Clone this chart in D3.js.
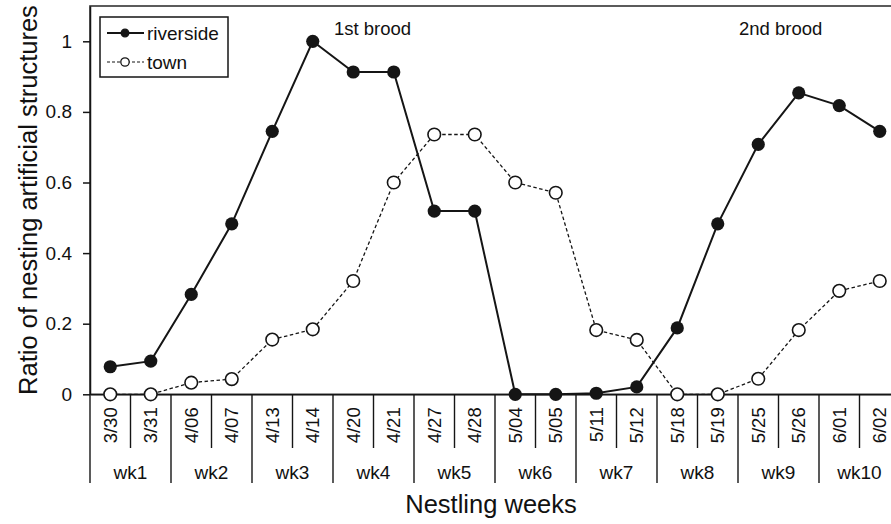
<!DOCTYPE html>
<html>
<head>
<meta charset="utf-8">
<script src="https://cdn.jsdelivr.net/npm/d3@7"></script>
<style>
  body { margin: 0; background: #fff; }
  svg { display: block; overflow: hidden; }
  text { font-family: "Liberation Sans", Arial, sans-serif; fill: #111; }
</style>
</head>
<body>
<div id="chart"></div>
<script>
// Sampling dates, nestling weeks and the two series
const dates = ["3/30", "3/31", "4/06", "4/07", "4/13", "4/14", "4/20", "4/21", "4/27", "4/28",
               "5/04", "5/05", "5/11", "5/12", "5/18", "5/19", "5/25", "5/26", "6/01", "6/02"];
const weeks = ["wk1", "wk2", "wk3", "wk4", "wk5", "wk6", "wk7", "wk8", "wk9", "wk10"];
const riverside = [0.078, 0.094, 0.283, 0.483, 0.745, 1.0, 0.913, 0.913, 0.519, 0.519,
                   0, 0, 0.003, 0.021, 0.188, 0.483, 0.708, 0.854, 0.818, 0.745];
const town = [0, 0, 0.033, 0.043, 0.155, 0.184, 0.321, 0.6, 0.736, 0.736,
              0.6, 0.571, 0.182, 0.154, 0, 0, 0.044, 0.182, 0.293, 0.321];
const yTicks = [0, 0.2, 0.4, 0.6, 0.8, 1];
const annotations = [{label: "1st brood", at: "4/20"}, {label: "2nd brood", at: "5/25"}];

const width = 891;
const height = 524;
const margin = ({top: 6, left: 90, bottom: 394.3, right: 900});
const ink = "#151515";

const x = d3.scaleBand().domain(dates).range([margin.left, margin.right]);
const xWeek = d3.scaleBand().domain(weeks).range([margin.left, margin.right]);
const y = d3.scaleLinear().domain([0, 1.1]).range([margin.bottom, margin.top]);

const svg = d3.select("#chart").append("svg")
  .attr("width", width)
  .attr("height", height);

// Plot frame (right edge falls outside the picture)
svg.append("rect")
  .attr("x", margin.left).attr("y", margin.top)
  .attr("width", margin.right - margin.left)
  .attr("height", margin.bottom - margin.top)
  .attr("fill", "none").attr("stroke", "#333").attr("stroke-width", 1.6);

/* y axis */
svg.append("g")
  .attr("transform", `translate(${margin.left},0)`)
  .call(d3.axisLeft(y)
    .tickValues(yTicks)
    .tickFormat(d3.format("~g"))
    .tickSize(7)
    .tickSizeOuter(0)
    .tickPadding(11))
  .call(g => g.selectAll("path, line").attr("stroke", ink).attr("stroke-width", 1.5))
  .call(g => g.selectAll("text").attr("font-size", 19).attr("fill", ink)
      .style("font-family", "Liberation Sans, Arial, sans-serif"));

/* x axis : dates */
svg.append("g")
  .attr("transform", `translate(0,${margin.bottom})`)
  .call(d3.axisBottom(x).tickSize(0).tickPadding(0))
  .call(g => g.select(".domain").attr("stroke", ink).attr("stroke-width", 1.5))
  .call(g => g.selectAll("text")
    .attr("font-size", 18.5)
    .attr("fill", ink)
    .style("font-family", "Liberation Sans, Arial, sans-serif")
    .attr("transform", "rotate(-90)")
    .attr("text-anchor", "end")
    .attr("x", -13).attr("y", 0).attr("dy", "0.35em"));

// separators between dates
svg.append("g")
  .selectAll("line")
  .data(dates.filter((d, i) => i % 2 === 1))
  .join("line")
    .attr("x1", d => x(d)).attr("x2", d => x(d))
    .attr("y1", margin.bottom).attr("y2", 448)
    .attr("stroke", ink).attr("stroke-width", 1.4);

// week separators and labels
svg.append("g")
  .selectAll("line")
  .data(weeks)
  .join("line")
    .attr("x1", d => xWeek(d)).attr("x2", d => xWeek(d))
    .attr("y1", margin.bottom).attr("y2", 483)
    .attr("stroke", ink).attr("stroke-width", 1.4);

svg.append("g")
  .selectAll("text")
  .data(weeks)
  .join("text")
    .attr("x", d => xWeek(d) + xWeek.bandwidth() / 2)
    .attr("y", 479)
    .attr("text-anchor", "middle")
    .attr("font-size", 19)
    .text(d => d);

/* axis titles */
svg.append("text")
  .attr("x", (margin.left + margin.right) / 2 - 4)
  .attr("y", 513)
  .attr("text-anchor", "middle")
  .attr("font-size", 25.5)
  .text("Nestling weeks");

svg.append("text")
  .attr("transform", "translate(37,200) rotate(-90)")
  .attr("text-anchor", "middle")
  .attr("font-size", 25.5)
  .text("Ratio of nesting artificial structures");

/* brood annotations */
svg.append("g")
  .selectAll("text")
  .data(annotations)
  .join("text")
    .attr("x", d => x(d.at) + 1)
    .attr("y", 35)
    .attr("font-size", 18.5)
    .text(d => d.label);

/* series */
const line = d3.line()
  .x((d, i) => x(dates[i]) + x.bandwidth() / 2)
  .y(d => y(d));

svg.append("path")
  .datum(town)
  .attr("fill", "none")
  .attr("stroke", ink)
  .attr("stroke-width", 1.3)
  .attr("stroke-dasharray", "3.5,2.5")
  .attr("d", line);

svg.append("path")
  .datum(riverside)
  .attr("fill", "none")
  .attr("stroke", ink)
  .attr("stroke-width", 2)
  .attr("d", line);

svg.append("g")
  .selectAll("circle")
  .data(town)
  .join("circle")
    .attr("cx", (d, i) => x(dates[i]) + x.bandwidth() / 2)
    .attr("cy", d => y(d))
    .attr("r", 6.3)
    .attr("fill", "#fff")
    .attr("stroke", ink)
    .attr("stroke-width", 1.6);

svg.append("g")
  .selectAll("circle")
  .data(riverside)
  .join("circle")
    .attr("cx", (d, i) => x(dates[i]) + x.bandwidth() / 2)
    .attr("cy", d => y(d))
    .attr("r", 6.6)
    .attr("fill", ink);

/* legend */
const legend = svg.append("g").attr("transform", "translate(100,17)");
legend.append("rect")
  .attr("width", 128).attr("height", 60)
  .attr("fill", "#fff").attr("stroke", ink).attr("stroke-width", 1.5);

const legendItems = [
  {name: "riverside", dash: null, width: 2, fill: ink, r: 3.8},
  {name: "town", dash: "3,2", width: 1.2, fill: "#fff", r: 4.2}
];
const li = legend.selectAll("g.item")
  .data(legendItems)
  .join("g")
    .attr("class", "item")
    .attr("transform", (d, i) => `translate(0,${16 + i * 29})`);
li.append("line")
  .attr("x1", 7).attr("x2", 44)
  .attr("stroke", ink)
  .attr("stroke-width", d => d.width)
  .attr("stroke-dasharray", d => d.dash);
li.append("circle")
  .attr("cx", 25).attr("r", d => d.r)
  .attr("fill", d => d.fill)
  .attr("stroke", ink).attr("stroke-width", 1.3);
li.append("text")
  .attr("x", 47).attr("y", 7)
  .attr("font-size", 19)
  .text(d => d.name);
</script>
</body>
</html>
